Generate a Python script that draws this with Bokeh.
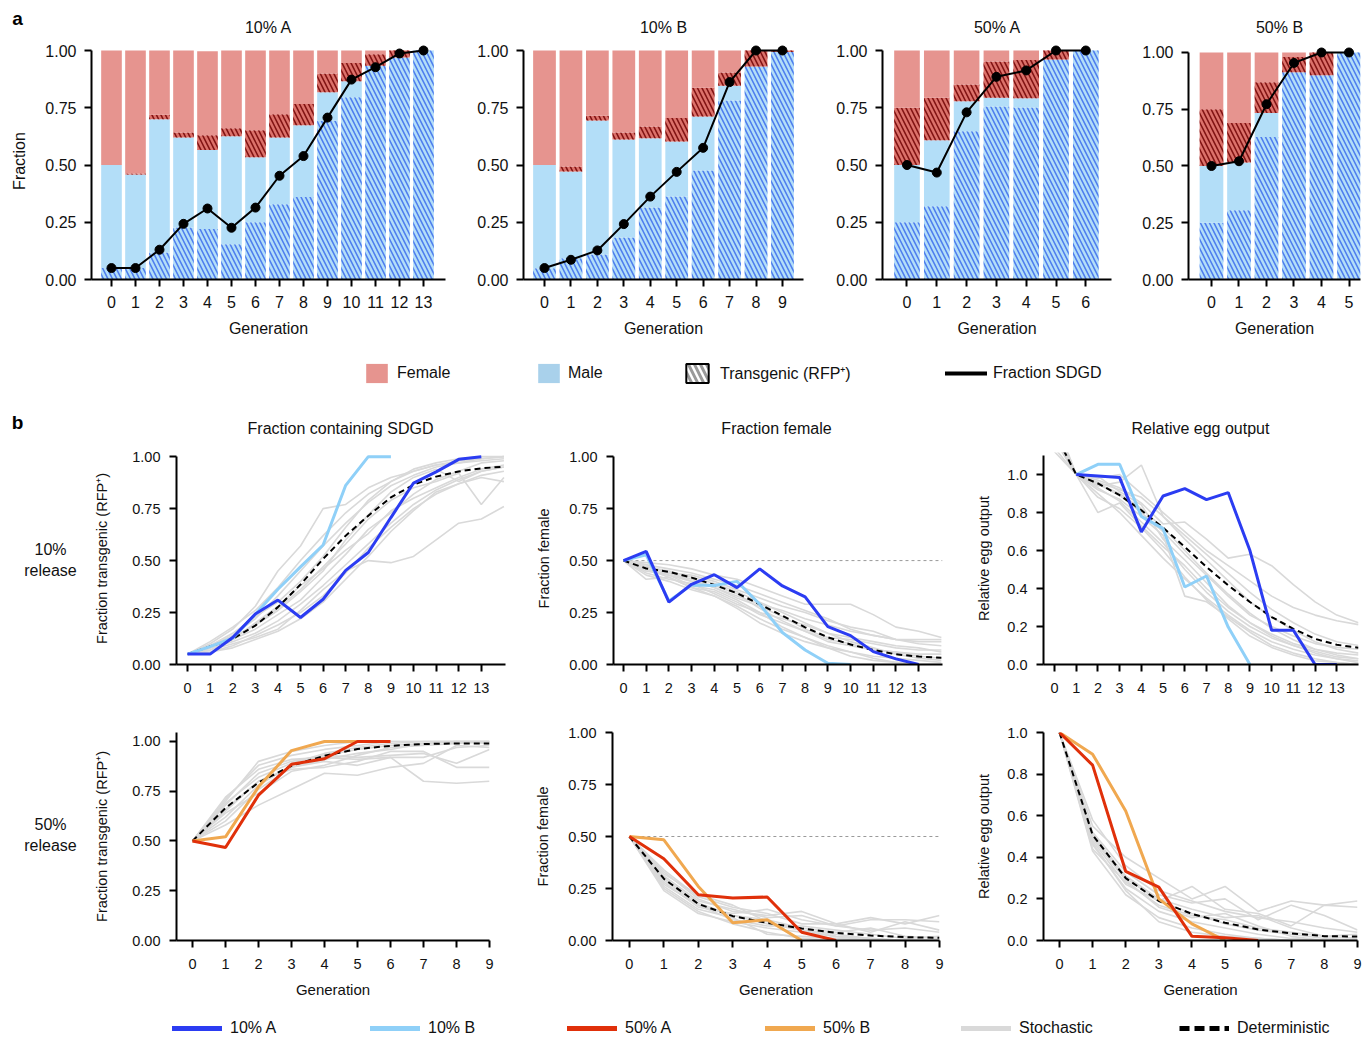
import numpy as np
from bokeh.plotting import figure
from bokeh.layouts import row, column
from bokeh.models import (Range1d, FixedTicker, NumeralTickFormatter, ColumnDataSource,
                          Legend, LegendItem)
from bokeh.core.properties import value
from bokeh.embed import file_html
from bokeh.resources import INLINE

FONT = "Liberation Sans"
INK = "#111111"

# ================= Panel a data (fractions per bar) =================
gen_10A = list(range(14))
male_tg_10A = [0.05, 0.05, 0.118, 0.227, 0.22, 0.154, 0.25, 0.329, 0.36, 0.693, 0.796, 0.933, 0.969, 1.0]
male_wt_10A = [0.45, 0.408, 0.582, 0.393, 0.345, 0.472, 0.284, 0.291, 0.314, 0.125, 0.07, 0.0, 0.0, 0.0]
fem_tg_10A = [0.0, 0.005, 0.02, 0.022, 0.065, 0.035, 0.118, 0.102, 0.092, 0.082, 0.079, 0.051, 0.031, 0.0]
fem_wt_10A = [0.5, 0.537, 0.28, 0.358, 0.367, 0.339, 0.348, 0.278, 0.234, 0.10, 0.055, 0.016, 0.0, 0.0]
sdgd_10A = [0.05, 0.05, 0.13, 0.243, 0.31, 0.226, 0.314, 0.453, 0.539, 0.707, 0.873, 0.927, 0.987, 1.0]

gen_10B = list(range(10))
male_tg_10B = [0.049, 0.093, 0.109, 0.183, 0.314, 0.362, 0.476, 0.782, 0.93, 0.994]
male_wt_10B = [0.451, 0.379, 0.585, 0.428, 0.303, 0.241, 0.236, 0.064, 0.0, 0.0]
fem_tg_10B = [0.0, 0.021, 0.021, 0.031, 0.051, 0.102, 0.125, 0.058, 0.07, 0.006]
fem_wt_10B = [0.5, 0.507, 0.285, 0.358, 0.332, 0.295, 0.163, 0.096, 0.0, 0.0]
sdgd_10B = [0.05, 0.086, 0.127, 0.242, 0.362, 0.47, 0.575, 0.862, 1.0, 1.0]

gen_50A = list(range(7))
male_tg_50A = [0.25, 0.32, 0.647, 0.756, 0.751, 0.961, 1.0]
male_wt_50A = [0.25, 0.288, 0.131, 0.038, 0.04, 0.0, 0.0]
fem_tg_50A = [0.25, 0.186, 0.074, 0.158, 0.168, 0.039, 0.0]
fem_wt_50A = [0.25, 0.206, 0.148, 0.048, 0.041, 0.0, 0.0]
sdgd_50A = [0.5, 0.467, 0.73, 0.885, 0.913, 1.0, 1.0]

gen_50B = list(range(6))
male_tg_50B = [0.25, 0.305, 0.628, 0.913, 0.90, 1.0]
male_wt_50B = [0.25, 0.21, 0.105, 0.0, 0.0, 0.0]
fem_tg_50B = [0.25, 0.174, 0.136, 0.067, 0.10, 0.0]
fem_wt_50B = [0.25, 0.311, 0.131, 0.02, 0.0, 0.0]
sdgd_50B = [0.5, 0.521, 0.772, 0.954, 1.0, 1.0]

PANEL_A_TITLES = ["10% A", "10% B", "50% A", "50% B"]
PANEL_B_TITLES = ["Fraction containing SDGD", "Fraction female", "Relative egg output"]

# ================= Panel b data =================
gens15 = list(range(15))
gens10 = list(range(10))

det_tg_10 = [0.05, 0.087, 0.123, 0.187, 0.276, 0.385, 0.508, 0.62, 0.716, 0.804, 0.865, 0.904, 0.929, 0.944, 0.952]
det_fem_10 = [0.5, 0.462, 0.446, 0.418, 0.383, 0.343, 0.29, 0.234, 0.179, 0.131, 0.096, 0.07, 0.049, 0.038, 0.032]
det_egg_10 = [1.22, 1.0, 0.953, 0.891, 0.812, 0.72, 0.619, 0.513, 0.417, 0.329, 0.25, 0.188, 0.135, 0.104, 0.088]

fem_10A = [0.5, 0.544, 0.30, 0.386, 0.432, 0.37, 0.46, 0.378, 0.325, 0.182, 0.139, 0.062, 0.027, 0.0]
fem_10B = [0.5, 0.528, 0.306, 0.383, 0.38, 0.40, 0.29, 0.154, 0.07, 0.006, 0.0]
egg_gen_10A = list(range(1, 14))
egg_10A = [1.0, 0.992, 0.984, 0.698, 0.887, 0.926, 0.868, 0.905, 0.60, 0.18, 0.18, 0.0, 0.0]
egg_gen_10B = list(range(1, 10))
egg_10B = [1.0, 1.054, 1.054, 0.78, 0.715, 0.408, 0.466, 0.197, 0.0]

stoch_tg_10 = [
    [0.05, 0.09, 0.14, 0.22, 0.33, 0.45, 0.57, 0.68, 0.78, 0.86, 0.91, 0.95, 0.97, 0.98, 0.99],
    [0.05, 0.08, 0.11, 0.15, 0.21, 0.29, 0.38, 0.48, 0.58, 0.68, 0.77, 0.84, 0.89, 0.93, 0.95],
    [0.05, 0.10, 0.17, 0.28, 0.45, 0.57, 0.75, 0.77, 0.85, 0.90, 0.93, 0.96, 0.98, 0.99, 1.00],
    [0.05, 0.07, 0.10, 0.13, 0.17, 0.26, 0.36, 0.45, 0.50, 0.49, 0.52, 0.60, 0.68, 0.70, 0.76],
    [0.05, 0.08, 0.13, 0.19, 0.27, 0.36, 0.47, 0.58, 0.70, 0.79, 0.85, 0.88, 0.92, 0.77, 0.90],
    [0.05, 0.06, 0.09, 0.14, 0.19, 0.25, 0.33, 0.44, 0.56, 0.66, 0.75, 0.82, 0.87, 0.90, 0.88],
    [0.05, 0.09, 0.15, 0.23, 0.30, 0.40, 0.52, 0.66, 0.79, 0.88, 0.93, 0.96, 0.97, 0.99, 1.00],
    [0.05, 0.08, 0.12, 0.20, 0.28, 0.38, 0.46, 0.55, 0.63, 0.74, 0.80, 0.85, 0.90, 0.94, 0.96],
    [0.05, 0.11, 0.18, 0.26, 0.37, 0.50, 0.62, 0.73, 0.82, 0.88, 0.94, 0.97, 0.99, 1.00, 1.00],
    [0.05, 0.07, 0.12, 0.17, 0.24, 0.31, 0.42, 0.53, 0.65, 0.73, 0.82, 0.89, 0.93, 0.97, 0.98],
    [0.05, 0.09, 0.13, 0.19, 0.26, 0.35, 0.45, 0.60, 0.72, 0.83, 0.90, 0.94, 0.88, 0.93, 0.95],
    [0.05, 0.06, 0.08, 0.12, 0.16, 0.22, 0.30, 0.41, 0.52, 0.64, 0.74, 0.83, 0.87, 0.91, 0.93],
]
stoch_fem_10 = [
    [0.5, 0.47, 0.45, 0.42, 0.39, 0.35, 0.30, 0.25, 0.20, 0.15, 0.11, 0.08, 0.05, 0.03, 0.02],
    [0.5, 0.49, 0.48, 0.46, 0.43, 0.41, 0.37, 0.33, 0.29, 0.29, 0.29, 0.24, 0.18, 0.16, 0.13],
    [0.5, 0.43, 0.40, 0.36, 0.33, 0.28, 0.22, 0.17, 0.13, 0.09, 0.06, 0.03, 0.01, 0.00, 0.00],
    [0.5, 0.45, 0.44, 0.40, 0.37, 0.33, 0.29, 0.26, 0.22, 0.19, 0.16, 0.14, 0.12, 0.11, 0.11],
    [0.5, 0.41, 0.42, 0.37, 0.35, 0.30, 0.24, 0.20, 0.16, 0.12, 0.10, 0.07, 0.06, 0.04, 0.03],
    [0.5, 0.48, 0.46, 0.44, 0.41, 0.38, 0.34, 0.30, 0.26, 0.22, 0.17, 0.14, 0.12, 0.12, 0.12],
    [0.5, 0.46, 0.43, 0.38, 0.36, 0.31, 0.25, 0.18, 0.13, 0.08, 0.04, 0.02, 0.01, 0.00, 0.00],
    [0.5, 0.44, 0.41, 0.39, 0.34, 0.29, 0.25, 0.22, 0.19, 0.15, 0.13, 0.11, 0.09, 0.08, 0.06],
    [0.5, 0.47, 0.44, 0.43, 0.40, 0.36, 0.32, 0.28, 0.25, 0.21, 0.18, 0.16, 0.12, 0.10, 0.09],
    [0.5, 0.45, 0.43, 0.40, 0.38, 0.34, 0.27, 0.21, 0.16, 0.11, 0.09, 0.07, 0.06, 0.05, 0.05],
    [0.5, 0.48, 0.44, 0.41, 0.37, 0.32, 0.28, 0.23, 0.17, 0.13, 0.12, 0.10, 0.08, 0.07, 0.07],
    [0.5, 0.46, 0.42, 0.37, 0.33, 0.27, 0.20, 0.15, 0.11, 0.08, 0.06, 0.04, 0.03, 0.02, 0.01],
]
stoch_egg_10 = [
    [1.25, 1.0, 0.95, 0.90, 0.82, 0.72, 0.60, 0.48, 0.37, 0.27, 0.19, 0.13, 0.08, 0.05, 0.03],
    [1.14, 1.0, 0.93, 0.86, 0.75, 0.64, 0.50, 0.38, 0.28, 0.20, 0.14, 0.10, 0.06, 0.03, 0.01],
    [1.30, 1.0, 0.98, 1.00, 0.90, 0.80, 0.70, 0.60, 0.52, 0.44, 0.36, 0.30, 0.26, 0.23, 0.21],
    [1.12, 1.0, 0.88, 0.82, 0.72, 0.60, 0.46, 0.34, 0.24, 0.15, 0.09, 0.05, 0.02, 0.01, 0.00],
    [1.28, 1.0, 0.96, 0.92, 0.88, 0.78, 0.68, 0.58, 0.48, 0.38, 0.29, 0.22, 0.16, 0.12, 0.10],
    [1.18, 1.0, 0.80, 0.85, 0.73, 0.62, 0.52, 0.40, 0.30, 0.22, 0.16, 0.11, 0.08, 0.06, 0.05],
    [1.24, 1.0, 0.94, 0.96, 1.05, 0.78, 0.66, 0.55, 0.44, 0.33, 0.25, 0.18, 0.12, 0.08, 0.06],
    [1.21, 1.0, 0.90, 0.80, 0.68, 0.56, 0.45, 0.35, 0.26, 0.18, 0.12, 0.08, 0.05, 0.03, 0.02],
    [1.26, 1.0, 0.97, 0.93, 0.85, 0.74, 0.75, 0.66, 0.56, 0.58, 0.52, 0.42, 0.33, 0.26, 0.22],
    [1.19, 1.0, 0.92, 0.87, 0.78, 0.68, 0.36, 0.33, 0.25, 0.17, 0.10, 0.06, 0.03, 0.01, 0.00],
    [1.23, 1.0, 0.95, 0.89, 0.80, 0.70, 0.58, 0.47, 0.36, 0.26, 0.20, 0.15, 0.11, 0.09, 0.08],
    [1.27, 1.0, 0.99, 0.91, 0.84, 0.66, 0.55, 0.43, 0.31, 0.22, 0.15, 0.10, 0.07, 0.04, 0.03],
]

det_tg_50 = [0.5, 0.666, 0.794, 0.878, 0.928, 0.962, 0.978, 0.987, 0.99, 0.99]
det_fem_50 = [0.5, 0.297, 0.176, 0.117, 0.085, 0.058, 0.037, 0.024, 0.016, 0.013]
det_egg_50 = [1.0, 0.508, 0.30, 0.19, 0.128, 0.085, 0.053, 0.034, 0.021, 0.019]

tg_50A = sdgd_50A
tg_50B = sdgd_50B
fem_gen_50A = list(range(7))
fem_50A = [0.5, 0.393, 0.22, 0.204, 0.209, 0.04, 0.0]
fem_gen_50B = list(range(6))
fem_50B = [0.5, 0.484, 0.26, 0.085, 0.10, 0.0]
egg_50A = [1.0, 0.843, 0.332, 0.257, 0.02, 0.013, 0.0]
egg_50B = [1.0, 0.896, 0.623, 0.20, 0.08, 0.0]

stoch_tg_50 = [
    [0.5, 0.70, 0.90, 0.95, 0.98, 1.0, 1.0, 1.0, 1.0, 1.0],
    [0.5, 0.62, 0.78, 0.88, 0.93, 0.96, 0.98, 0.99, 1.0, 1.0],
    [0.5, 0.58, 0.68, 0.76, 0.84, 0.83, 0.87, 0.89, 0.98, 0.97],
    [0.5, 0.72, 0.86, 0.91, 0.92, 0.91, 0.92, 0.80, 0.79, 0.80],
    [0.5, 0.66, 0.80, 0.86, 0.87, 0.90, 0.95, 0.95, 0.87, 0.87],
    [0.5, 0.68, 0.84, 0.90, 0.93, 0.92, 0.93, 0.94, 0.89, 0.96],
    [0.5, 0.64, 0.74, 0.85, 0.88, 0.93, 0.97, 0.98, 0.99, 1.0],
    [0.5, 0.71, 0.88, 0.93, 0.96, 0.98, 1.0, 1.0, 1.0, 1.0],
    [0.5, 0.60, 0.76, 0.87, 0.91, 0.94, 0.96, 0.99, 1.0, 1.0],
    [0.5, 0.69, 0.82, 0.89, 0.94, 0.97, 0.99, 1.0, 1.0, 0.99],
    [0.5, 0.65, 0.80, 0.87, 0.90, 0.88, 0.92, 0.92, 0.97, 0.98],
]
stoch_fem_50 = [
    [0.5, 0.30, 0.18, 0.12, 0.08, 0.05, 0.03, 0.01, 0.0, 0.0],
    [0.5, 0.25, 0.14, 0.08, 0.04, 0.01, 0.0, 0.0, 0.0, 0.0],
    [0.5, 0.33, 0.20, 0.14, 0.12, 0.14, 0.08, 0.11, 0.08, 0.12],
    [0.5, 0.28, 0.16, 0.13, 0.15, 0.10, 0.07, 0.10, 0.10, 0.09],
    [0.5, 0.24, 0.13, 0.09, 0.06, 0.04, 0.02, 0.01, 0.0, 0.0],
    [0.5, 0.31, 0.19, 0.15, 0.11, 0.12, 0.07, 0.05, 0.06, 0.04],
    [0.5, 0.27, 0.17, 0.10, 0.07, 0.07, 0.05, 0.03, 0.01, 0.02],
    [0.5, 0.34, 0.21, 0.16, 0.13, 0.08, 0.08, 0.04, 0.09, 0.05],
    [0.5, 0.26, 0.15, 0.11, 0.03, 0.02, 0.01, 0.0, 0.0, 0.0],
    [0.5, 0.29, 0.17, 0.12, 0.10, 0.06, 0.04, 0.06, 0.02, 0.01],
    [0.5, 0.32, 0.22, 0.17, 0.09, 0.05, 0.02, 0.0, 0.0, 0.0],
]
stoch_egg_50 = [
    [1.0, 0.50, 0.30, 0.19, 0.13, 0.08, 0.05, 0.03, 0.01, 0.0],
    [1.0, 0.43, 0.22, 0.11, 0.06, 0.03, 0.01, 0.0, 0.0, 0.0],
    [1.0, 0.55, 0.40, 0.30, 0.20, 0.26, 0.14, 0.19, 0.17, 0.19],
    [1.0, 0.48, 0.27, 0.19, 0.26, 0.15, 0.13, 0.07, 0.17, 0.16],
    [1.0, 0.46, 0.25, 0.14, 0.09, 0.06, 0.03, 0.01, 0.0, 0.0],
    [1.0, 0.52, 0.33, 0.22, 0.18, 0.20, 0.10, 0.17, 0.12, 0.05],
    [1.0, 0.44, 0.28, 0.17, 0.12, 0.10, 0.06, 0.04, 0.02, 0.03],
    [1.0, 0.58, 0.36, 0.24, 0.19, 0.14, 0.11, 0.09, 0.06, 0.04],
    [1.0, 0.47, 0.24, 0.09, 0.04, 0.02, 0.01, 0.0, 0.0, 0.0],
    [1.0, 0.51, 0.31, 0.20, 0.15, 0.11, 0.12, 0.06, 0.02, 0.01],
    [1.0, 0.49, 0.29, 0.16, 0.11, 0.13, 0.07, 0.02, 0.0, 0.0],
]

FEMALE_LEVEL = 0.5
FRAC_TICKS = [0, 0.25, 0.5, 0.75, 1.0]
EGG_TICKS = [0, 0.2, 0.4, 0.6, 0.8, 1.0]

# ================= colours =================
C_FEMALE = "#E6948F"
C_FEMALE_TG = "#DC716A"
C_FEMALE_TG_H = "#821414"
C_MALE = "#B3DEF8"
C_MALE_TG_H = "#4F7EEE"
C_10A = "#2B3CF2"
C_10B = "#8FD0F8"
C_50A = "#E0300A"
C_50B = "#F0A850"
C_STOCH = "#D9D9D9"

W = 1362


def base_fig(xr, yr, fw, fh, bl, br, bt, bb):
    p = figure(x_range=Range1d(*xr), y_range=Range1d(*yr), frame_width=fw, frame_height=fh,
               min_border_left=bl, min_border_right=br, min_border_top=bt, min_border_bottom=bb,
               toolbar_location=None, tools="", output_backend="svg")
    p.xgrid.visible = False
    p.ygrid.visible = False
    p.outline_line_color = None
    return p


def blank_fig(fw, fh, bt=0, bb=0):
    # pixel-unit canvas without axes (for panel letters, titles, legends)
    p = figure(x_range=Range1d(0, fw), y_range=Range1d(0, fh), frame_width=fw, frame_height=fh,
               min_border_left=0, min_border_right=0, min_border_top=bt, min_border_bottom=bb,
               x_axis_location=None, y_axis_location=None,
               toolbar_location=None, tools="", output_backend="svg")
    p.grid.visible = False
    p.outline_line_color = None
    return p


def put_text(p, xs, ys, texts, fs, bold=False):
    p.text(x=xs, y=ys, text=texts, text_font=value(FONT), text_font_size=fs,
           text_font_style="bold" if bold else "normal", text_align="center",
           text_baseline="middle", text_color="black" if bold else INK)


def style_axes(p, tick_fs, label_fs, x_standoff, y_standoff):
    for ax in p.axis:
        ax.axis_line_width = 2
        ax.axis_line_color = "black"
        ax.major_tick_line_width = 2
        ax.major_tick_line_color = "black"
        ax.major_tick_out = 7
        ax.major_tick_in = 0
        ax.minor_tick_line_color = None
        ax.major_label_text_font = FONT
        ax.major_label_text_font_size = tick_fs
        ax.major_label_text_color = INK
        ax.axis_label_text_font = FONT
        ax.axis_label_text_font_size = label_fs
        ax.axis_label_text_font_style = "normal"
        ax.axis_label_text_color = INK
    p.xaxis.major_label_standoff = x_standoff
    p.yaxis.major_label_standoff = y_standoff


# ---------------- top strip: panel letter + titles ----------------
TOP = blank_fig(W, 42)
put_text(TOP, [17], [24], ["a"], "19px", bold=True)
put_text(TOP, [268, 663, 997, 1279], [15, 15, 15, 15], PANEL_A_TITLES, "16px")


def bar_panel(gens, mt, mw, ft, fwt, sdgd, xr, ytop, fw, bl, br, ylabel=None):
    p = base_fig(xr, (0, ytop), fw, 237, bl, br, 0, 66)
    src = ColumnDataSource(dict(gen=gens, mt=mt, mw=mw, ft=ft, fwt=fwt))
    p.vbar_stack(["mt", "mw", "ft", "fwt"], x="gen", width=0.86, source=src,
                 fill_color=[C_MALE, C_MALE, C_FEMALE_TG, C_FEMALE],
                 line_color=None,
                 hatch_pattern=["\\", " ", "\\", " "],
                 hatch_color=[C_MALE_TG_H, C_MALE, C_FEMALE_TG_H, C_FEMALE],
                 hatch_scale=9, hatch_weight=1.6)
    p.line(gens, sdgd, line_color="black", line_width=2)
    p.scatter(gens, sdgd, size=9, fill_color="black", line_color="black")
    style_axes(p, "16px", "16px", 9, 8)
    p.xaxis.ticker = FixedTicker(ticks=gens)
    p.yaxis.ticker = FixedTicker(ticks=FRAC_TICKS)
    p.yaxis.formatter = NumeralTickFormatter(format="0.00")
    p.yaxis.bounds = (0, 1)
    p.xaxis.axis_label = "Generation"
    p.xaxis.axis_label_standoff = 9
    if ylabel:
        p.yaxis.axis_label = ylabel
        p.yaxis.axis_label_standoff = 14
    return p


A1 = bar_panel(gen_10A, male_tg_10A, male_wt_10A, fem_tg_10A, fem_wt_10A, sdgd_10A,
               (-0.833, 13.917), 1.035, 354, 91, 15, ylabel="Fraction")
A2 = bar_panel(gen_10B, male_tg_10B, male_wt_10B, fem_tg_10B, fem_wt_10B, sdgd_10B,
               (-0.794, 9.796), 1.035, 280, 63, 22)
A3 = bar_panel(gen_50A, male_tg_50A, male_wt_50A, fem_tg_50A, fem_wt_50A, sdgd_50A,
               (-0.822, 6.862), 1.035, 229, 57, 14)
A4 = bar_panel(gen_50B, male_tg_50B, male_wt_50B, fem_tg_50B, fem_wt_50B, sdgd_50B,
               (-0.836, 5.418), 1.044, 172, 63, 2)


# ---------------- legend a strip (+ panel b letter and column titles) ----------------
def add_leg(p, rend, label, x, y, gw, gh, so, fs="16px"):
    lg = Legend(items=[LegendItem(label=label, renderers=[rend])], location=(x, y),
                orientation="horizontal", padding=0, margin=0, spacing=0,
                border_line_color=None, background_fill_alpha=0,
                glyph_width=gw, glyph_height=gh, label_standoff=so, label_height=gh,
                label_text_font=FONT, label_text_font_size=fs, label_text_color=INK)
    p.add_layout(lg, "center")


# legend proxies are placed outside the visible range; only their legend swatches show
PROXY = [-50, -40]

LA = blank_fig(W, 100)
r_f = LA.quad(left=[PROXY[0]], right=[PROXY[1]], top=[PROXY[1]], bottom=[PROXY[0]],
              fill_color=C_FEMALE, line_color=None)
r_m = LA.quad(left=[PROXY[0]], right=[PROXY[1]], top=[PROXY[1]], bottom=[PROXY[0]],
              fill_color="#A9D1EB", line_color=None)
r_t = LA.quad(left=[PROXY[0]], right=[PROXY[1]], top=[PROXY[1]], bottom=[PROXY[0]],
              fill_color="white", line_color="black", line_width=2,
              hatch_pattern="\\", hatch_color="#9A9A9A", hatch_scale=12, hatch_weight=3)
r_s = LA.line(x=PROXY, y=PROXY, line_color="black", line_width=4, line_cap="round")
add_leg(LA, r_f, "Female", 363, 60, 27, 24, 7)
add_leg(LA, r_m, "Male", 535, 60, 27, 24, 6)
add_leg(LA, r_t, "Transgenic (RFP\u207a)", 683, 60, 28, 24, 9)
add_leg(LA, r_s, "Fraction SDGD", 945, 60, 42, 24, 6)
put_text(LA, [17], [23], ["b"], "19px", bold=True)
put_text(LA, [340, 776, 1200], [17, 17, 17], PANEL_B_TITLES, "16px")


# ---------------- panel b ----------------
def line_panel(xr, yr, fw, fh, bl, br, bt, bb, xticks, yticks, yfmt, ylabel, ylso,
               xlabel=None, ybounds=None):
    p = base_fig(xr, yr, fw, fh, bl, br, bt, bb)
    style_axes(p, "14.5px", "15px", 11, 9)
    p.yaxis.axis_label_text_font_size = "14.5px"
    p.xaxis.ticker = FixedTicker(ticks=xticks)
    p.yaxis.ticker = FixedTicker(ticks=yticks)
    p.yaxis.formatter = NumeralTickFormatter(format=yfmt)
    if ybounds:
        p.yaxis.bounds = ybounds
    p.yaxis.axis_label = ylabel
    p.yaxis.axis_label_standoff = ylso
    if xlabel:
        p.xaxis.axis_label = xlabel
        p.xaxis.axis_label_standoff = 9
    return p


def stoch(p, gens, rows):
    p.multi_line([gens] * len(rows), rows, line_color=C_STOCH, line_width=1.6)


def det(p, gens, vals):
    p.line(gens, vals, line_color="black", line_width=2, line_dash="6 4")


def ref_half(p, gmax):
    p.line([0, gmax], [FEMALE_LEVEL, FEMALE_LEVEL], line_color="#9A9A9A", line_width=1, line_dash="3 3")


YL_TG = "Fraction transgenic (RFP\u207a)"

# row 1 (10% release): frames 452..664
LB1 = blank_fig(90, 212, bt=7, bb=41)
put_text(LB1, [50, 50], [115, 94], ["10%", "release"], "16px")

B11 = line_panel((-0.487, 14.07), (0, 1.02), 329, 212, 86, 15, 7, 41, list(range(14)), FRAC_TICKS, "0.00",
                 YL_TG, 19, ybounds=(0, 1))
stoch(B11, gens15, stoch_tg_10)
det(B11, gens15, det_tg_10)
B11.line(gen_10B, sdgd_10B, line_color=C_10B, line_width=3)
B11.line(gen_10A, sdgd_10A, line_color=C_10A, line_width=3)

B12 = line_panel((-0.44, 14.05), (0, 1.02), 329, 212, 93, 18, 7, 41, list(range(14)), FRAC_TICKS, "0.00",
                 "Fraction female", 14, ybounds=(0, 1))
ref_half(B12, 14.05)
stoch(B12, gens15, stoch_fem_10)
det(B12, gens15, det_fem_10)
B12.line(list(range(len(fem_10B))), fem_10B, line_color=C_10B, line_width=3)
B12.line(gen_10A, fem_10A, line_color=C_10A, line_width=3)

B13 = line_panel((-0.507, 14.0), (0, 1.116), 315, 212, 83, 4, 7, 41, list(range(14)), EGG_TICKS, "0.0",
                 "Relative egg output", 12, ybounds=(0, 1.1))
stoch(B13, gens15, stoch_egg_10)
det(B13, gens15, det_egg_10)
B13.line(egg_gen_10B, egg_10B, line_color=C_10B, line_width=3)
B13.line(egg_gen_10A, egg_10A, line_color=C_10A, line_width=3)

# row 2 (50% release): frames 732..940
LB2 = blank_fig(90, 208, bt=27, bb=60)
put_text(LB2, [50, 50], [116, 95], ["50%", "release"], "16px")

B21 = line_panel((-0.485, 9.0), (0, 1.045), 313, 208, 86, 31, 27, 60, gens10, FRAC_TICKS, "0.00",
                 YL_TG, 19, xlabel="Generation")
stoch(B21, gens10, stoch_tg_50)
det(B21, gens10, det_tg_50)
B21.line(gen_50B, tg_50B, line_color=C_50B, line_width=3)
B21.line(gen_50A, tg_50A, line_color=C_50A, line_width=3)

B22 = line_panel((-0.49, 9.0), (0, 1.0), 327, 208, 92, 21, 27, 60, gens10, FRAC_TICKS, "0.00",
                 "Fraction female", 14, xlabel="Generation")
ref_half(B22, 9.0)
stoch(B22, gens10, stoch_fem_50)
det(B22, gens10, det_fem_50)
B22.line(fem_gen_50B, fem_50B, line_color=C_50B, line_width=3)
B22.line(fem_gen_50A, fem_50A, line_color=C_50A, line_width=3)

B23 = line_panel((-0.483, 9.0), (0, 1.0), 314, 208, 83, 5, 27, 60, gens10, EGG_TICKS, "0.0",
                 "Relative egg output", 12, xlabel="Generation")
stoch(B23, gens10, stoch_egg_50)
det(B23, gens10, det_egg_50)
B23.line(fem_gen_50B, egg_50B, line_color=C_50B, line_width=3)
B23.line(fem_gen_50A, egg_50A, line_color=C_50A, line_width=3)

# ---------------- legend b ----------------
LBL = blank_fig(W, 37)
leg_b = [("10% A", C_10A, None, 172), ("10% B", C_10B, None, 370), ("50% A", C_50A, None, 567),
         ("50% B", C_50B, None, 765), ("Stochastic", C_STOCH, None, 961), ("Deterministic", "black", "10 5", 1179)]
for lab, col, dash, lx in leg_b:
    kw = dict(line_color=col, line_width=5, line_cap="round")
    if dash:
        kw["line_dash"] = dash
        kw["line_cap"] = "butt"
    r = LBL.line(x=PROXY, y=PROXY, **kw)
    add_leg(LBL, r, lab, lx, 0, 50, 16, 8)

layout = column(
    TOP,
    row(A1, A2, A3, A4),
    LA,
    row(LB1, B11, B12, B13),
    row(LB2, B21, B22, B23),
    LBL,
)

open("out.html", "w").write(file_html(layout, INLINE))
